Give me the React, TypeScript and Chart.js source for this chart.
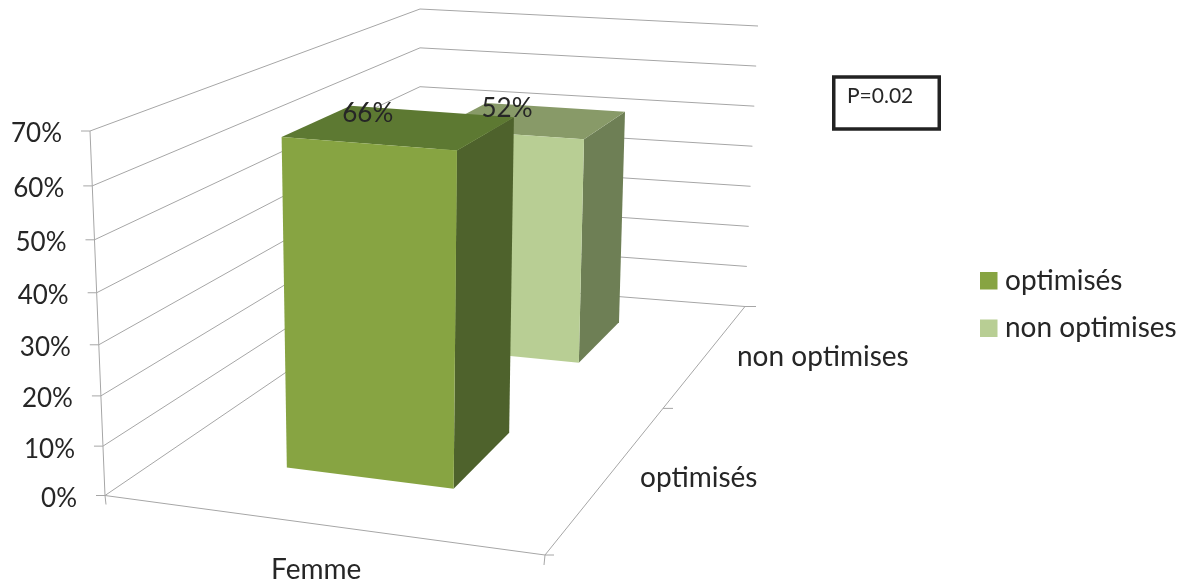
import React, { useEffect, useRef } from "react";
import { Chart, registerables, BarController } from "chart.js";

// ---- data ----
const groupLabels = ["Femme"];
const seriesNames = ["optimisés", "non optimises"];
const optimisesValues = [66];
const nonOptimisesValues = [52];
const axisMax = 70;
const axisStep = 10;
const annotation = "P=0.02";

// ---- styles ----
const FONT = "Lato, 'Open Sans', sans-serif";
const TEXT = "#262626";
const GRID = "#a6a6a6";
const faceColors = ["#87A442", "#B8CE94"];
const sideColors = ["#4E622C", "#6E7F55"];
const topColors = ["#5D7932", "#889A68"];

// ---- scene frame of the 3D box (floor and top corners) ----
const floorFL = [105, 495.5], floorFR = [545, 555], floorBL = [420, 281], floorBR = [745, 306.5];
const topFL = [90, 131], topFR = [555, 167], topBL = [420, 9], topBR = [758, 26];
const barSpan = [0.285, 0.685];
const barDepths = [[0.2, 0.435], [0.73, 0.9]];
const depthTick = 0.59;
const depthLabelZ = [0.31, 0.795];
const valueLabelShift = [[-33, -14], [-26, -12]];
const legendBoxX = 980;
const legendRowsY = [280.5, 328];

const bilerp = (a: number[], b: number[], c: number[], d: number[], X: number, Z: number, i: number) =>
  a[i] * (1 - X) * (1 - Z) + b[i] * X * (1 - Z) + c[i] * (1 - X) * Z + d[i] * X * Z;

function project(X: number, Z: number, V: number) {
  const k = Z >= 1 ? 0 : -0.06;
  const w = (V * (1 + k)) / (1 + k * V);
  const pt = (i: number) =>
    bilerp(floorFL, floorFR, floorBL, floorBR, X, Z, i) * (1 - w) + bilerp(topFL, topFR, topBL, topBR, X, Z, i) * w;
  return [pt(0), pt(1)];
}

const fraction = (chart: any, value: number) => {
  const y = chart.scales.y;
  const p0 = y.getPixelForValue(0);
  return (p0 - y.getPixelForValue(value)) / (p0 - y.getPixelForValue(axisMax));
};

function poly(ctx: CanvasRenderingContext2D, pts: number[][], fill: string) {
  ctx.beginPath();
  pts.forEach((p, i) => (i ? ctx.lineTo(p[0], p[1]) : ctx.moveTo(p[0], p[1])));
  ctx.closePath();
  ctx.fillStyle = fill;
  ctx.fill();
}

function seg(ctx: CanvasRenderingContext2D, a: number[], b: number[]) {
  ctx.beginPath();
  ctx.moveTo(a[0], a[1]);
  ctx.lineTo(b[0], b[1]);
  ctx.stroke();
}

class Bar3DController extends BarController {
  static id = "bar3d";
  static defaults = BarController.defaults;
  static overrides = BarController.overrides;
  draw() {
    const chart: any = this.chart;
    const ctx: CanvasRenderingContext2D = chart.ctx;
    const i = this.index;
    const ds: any = this.getDataset();
    const [x0, x1] = barSpan;
    const [z0, z1] = barDepths[i];
    ds.data.forEach((value: number) => {
      const v = fraction(chart, value);
      const fl0 = project(x0, z0, 0), fr0 = project(x1, z0, 0), br0 = project(x1, z1, 0);
      const flT = project(x0, z0, v), frT = project(x1, z0, v), brT = project(x1, z1, v), blT = project(x0, z1, v);
      poly(ctx, [fr0, br0, brT, frT], sideColors[i]);
      poly(ctx, [flT, frT, brT, blT], topColors[i]);
      poly(ctx, [fl0, fr0, frT, flT], faceColors[i]);
    });
  }
}

const scenePlugin = {
  id: "scene",
  beforeDatasetsDraw(chart: any) {
    const ctx: CanvasRenderingContext2D = chart.ctx;
    const y = chart.scales.y;
    ctx.save();
    ctx.strokeStyle = GRID;
    ctx.lineWidth = 1;
    y.ticks.forEach((t: any) => {
      const v = fraction(chart, t.value);
      const a = project(0, 0, v), b = project(0, 1, v), c = project(1, 1, v);
      seg(ctx, a, b);
      seg(ctx, b, c);
      seg(ctx, [a[0] - 9, a[1]], a);
      ctx.fillStyle = TEXT;
      ctx.font = `26px ${FONT}`;
      ctx.textAlign = "right";
      ctx.textBaseline = "middle";
      ctx.fillText(t.label, a[0] - 28, a[1] + 3);
    });
    const fl = project(0, 0, 0), fr = project(1, 0, 0), br = project(1, 1, 0);
    seg(ctx, fl, project(0, 0, 1));
    seg(ctx, fl, [fl[0] + 1, fl[1] + 9]);
    seg(ctx, fl, fr);
    seg(ctx, fr, br);
    seg(ctx, [fr[0], fr[1]], [fr[0] - 1, fr[1] + 10]);
    seg(ctx, fr, [fr[0] + 9, fr[1]]);
    seg(ctx, br, [br[0] + 11, br[1]]);
    const m = project(1, depthTick, 0);
    seg(ctx, m, [m[0] + 10, m[1]]);
    ctx.restore();
  },
  afterDatasetsDraw(chart: any) {
    const ctx: CanvasRenderingContext2D = chart.ctx;
    ctx.save();
    ctx.fillStyle = TEXT;
    ctx.font = `26px ${FONT}`;
    ctx.textBaseline = "middle";

    // value labels on the bar tops
    ctx.textAlign = "center";
    chart.data.datasets.forEach((ds: any, i: number) => {
      ds.data.forEach((value: number) => {
        const [z0, z1] = barDepths[i];
        const p = project((barSpan[0] + barSpan[1]) / 2, (z0 + z1) / 2, fraction(chart, value));
        ctx.fillText(`${value}%`, p[0] + valueLabelShift[i][0], p[1] + valueLabelShift[i][1]);
      });
    });

    ctx.font = `28px ${FONT}`;
    // category axis label on the front edge
    chart.data.labels.forEach((label: string) => {
      const p = project(0.48, 0, 0);
      ctx.fillText(label, p[0], p[1] + 46);
    });

    // depth axis labels
    ctx.textAlign = "left";
    seriesNames.forEach((name, i) => {
      const p = project(1, depthLabelZ[i], 0);
      ctx.fillText(name, p[0] + 33, p[1]);
    });

    // legend
    chart.data.datasets.forEach((ds: any, i: number) => {
      ctx.fillStyle = ds.backgroundColor;
      ctx.fillRect(legendBoxX, legendRowsY[i] - 8.5, 17.5, 17.5);
      ctx.fillStyle = TEXT;
      ctx.fillText(ds.label, legendBoxX + 25, legendRowsY[i]);
    });

    // annotation box
    ctx.strokeStyle = "#222222";
    ctx.lineWidth = 3.5;
    ctx.strokeRect(833.75, 77, 105.5, 52);
    ctx.font = `21px ${FONT}`;
    ctx.fillText(annotation, 847, 96);
    ctx.restore();
  },
};

Chart.register(...registerables, Bar3DController);

export default function App() {
  const ref = useRef<HTMLCanvasElement>(null);
  useEffect(() => {
    const chart = new Chart(ref.current as HTMLCanvasElement, {
      type: "bar3d" as any,
      data: {
        labels: groupLabels,
        datasets: [
          { label: seriesNames[0], data: optimisesValues, backgroundColor: faceColors[0], borderWidth: 0, clip: false },
          { label: seriesNames[1], data: nonOptimisesValues, backgroundColor: faceColors[1], borderWidth: 0, clip: false },
        ],
      },
      options: {
        responsive: false,
        animation: false,
        events: [],
        layout: { padding: { top: 131, bottom: 90, left: 90 } },
        scales: {
          x: { display: false, type: "category" },
          y: {
            type: "linear",
            min: 0,
            max: axisMax,
            ticks: { stepSize: axisStep, display: false, callback: (v: any) => `${v}%` },
            grid: { display: false },
            border: { display: false },
          },
        },
        plugins: {
          tooltip: { enabled: false },
          legend: { display: false },
        },
      } as any,
      plugins: [scenePlugin],
    });
    return () => chart.destroy();
  }, []);
  return (
    <div style={{ position: "absolute", left: 0, top: 0, width: 1189, height: 588, background: "#fff" }}>
      <canvas ref={ref} width={1189} height={588} style={{ display: "block" }} />
    </div>
  );
}
